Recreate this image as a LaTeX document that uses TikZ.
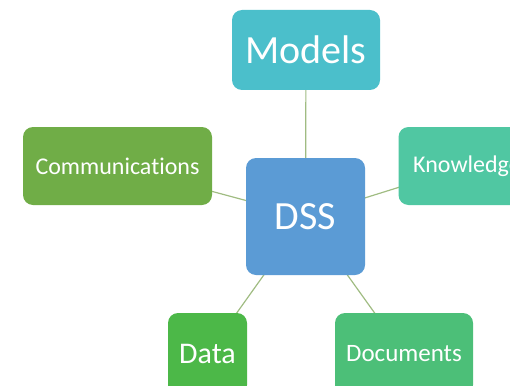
\documentclass[tikz,border=0pt]{standalone}
\usepackage{fontspec}
\setmainfont[Ligatures=NoCommon]{Carlito}
\usepackage{tikz}
\usetikzlibrary{backgrounds,positioning}
\definecolor{modelcol}{RGB}{75,191,203}
\definecolor{commcol}{RGB}{112,173,71}
\definecolor{knowcol}{RGB}{80,199,162}
\definecolor{dsscol}{RGB}{91,155,213}
\definecolor{datacol}{RGB}{76,184,72}
\definecolor{doccol}{RGB}{76,191,120}
\definecolor{linkcol}{RGB}{160,188,130}
\tikzstyle{hub}=[rectangle,rounded corners=10pt,inner sep=0pt,text=white,align=center]
\tikzstyle{spoke}=[hub]
\tikzstyle{link}=[draw=linkcol,line width=1.2pt]

\begin{document}
\begin{tikzpicture}[x=1pt,y=-1pt]
    \useasboundingbox (0,0) rectangle (510,385);
    \clip (0,0) rectangle (510,385);

    \node[hub,fill=dsscol,minimum width=119pt,minimum height=117pt,font=\fontsize{40}{40}\selectfont]
      (dss) at (305.5,216.5) {DSS};

    \node[spoke,fill=modelcol,minimum width=148pt,minimum height=80pt,font=\fontsize{40}{40}\selectfont]
      (models) at (306,50) {Models};
    \node[spoke,fill=commcol,minimum width=189pt,minimum height=78pt,font=\fontsize{24}{24}\selectfont]
      (comm) at (117.5,166) {Communications};
    \node[spoke,fill=knowcol,minimum width=137pt,minimum height=78pt,font=\fontsize{24}{24}\selectfont]
      (know) at (467,166) {Knowledge};
    \node[spoke,fill=datacol,minimum width=79pt,minimum height=82pt,font=\fontsize{30}{30}\selectfont]
      (data) at (207.5,354) {Data};
    \node[spoke,fill=doccol,minimum width=138pt,minimum height=82pt,font=\fontsize{25}{25}\selectfont]
      (docs) at (404,354) {Documents};

    \begin{scope}[on background layer]
      \foreach \n in {models,comm,know,data,docs}
        \draw[link] (dss.center) -- (\n.center);
    \end{scope}
\end{tikzpicture}
\end{document}
